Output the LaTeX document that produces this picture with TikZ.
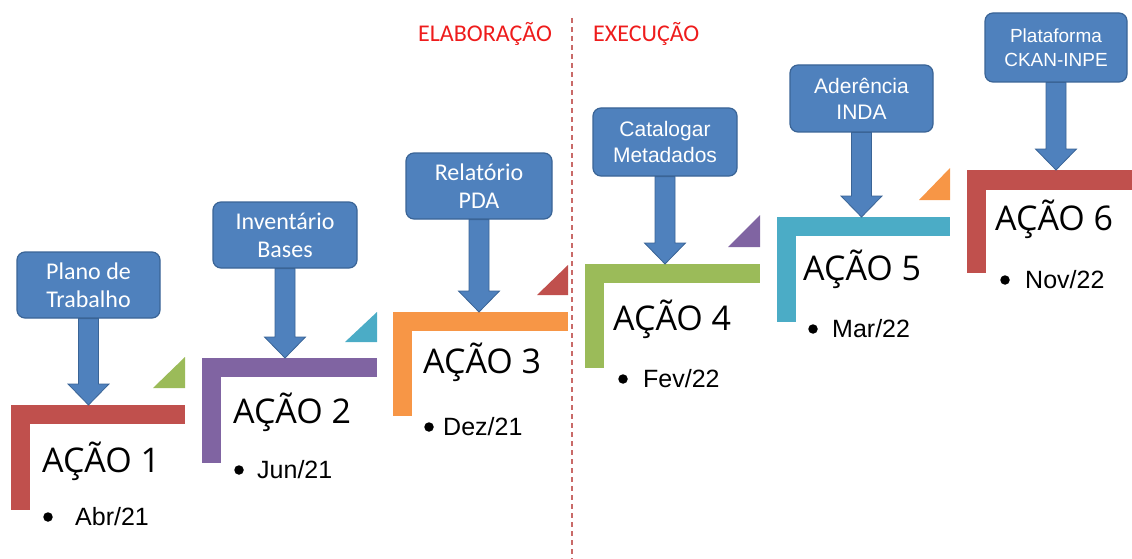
\documentclass[tikz,border=0pt]{standalone}
\usepackage{fontspec}
\setmainfont{Open Sans}
\newfontfamily\calfont{Carlito}
\newfontfamily\arialfont{Liberation Sans}
\usetikzlibrary{calc}
\definecolor{cred}{HTML}{C0504D}
\definecolor{cpurple}{HTML}{8064A2}
\definecolor{corange}{HTML}{F79646}
\definecolor{cgreen}{HTML}{9BBB59}
\definecolor{ccyan}{HTML}{4BACC6}
\definecolor{boxblue}{HTML}{4F81BD}
\definecolor{boxedge}{HTML}{3A6496}
\definecolor{labred}{HTML}{EE1C1C}
\newcommand\blockarrow[2]{%
  \path[arrowsty] let \p1=(#1.south), \p2=(#2) in
    (\x1-10pt,\y1) -- (\x1+10pt,\y1) -- (\x1+10pt,\y2+21pt) -- (\x1+20.5pt,\y2+21pt)
    -- (\x1,\y2) -- (\x1-20.5pt,\y2+21pt) -- (\x1-10pt,\y2+21pt) -- cycle;}
\begin{document}
\begin{tikzpicture}[x=1pt,y=-1pt,
  bar/.style={draw=none,inner sep=0,outer sep=0,anchor=north west},
  box/.style={rounded corners=8pt,fill=boxblue,draw=boxedge,line width=1.2pt,
    text=white,align=center,inner sep=0,minimum width=143pt,minimum height=66pt},
  calbox/.style={box,font=\calfont\fontsize{24}{28}\selectfont},
  arbox/.style={box,font=\arialfont\fontsize{21}{26}\selectfont},
  arrowsty/.style={fill=boxblue,draw=boxedge,line width=0.8pt},
  acao/.style={anchor=base west,inner sep=0,font=\fontsize{34}{40}\selectfont},
  datetext/.style={anchor=base west,inner sep=0,font=\arialfont\fontsize{25}{30}\selectfont},
  bul/.style={circle,fill=black,inner sep=0,minimum size=9.5pt},
  phase/.style={anchor=base west,inner sep=0,text=labred,font=\calfont\fontsize{24}{28}\selectfont}]
\useasboundingbox (0,0) rectangle (1132,559);

% divider
\draw[cred!85!white,line width=1.3pt,dash pattern=on 5pt off 4pt] (572,18) -- (572,559);
\node[phase] (elab) at (418,42) {ELABORAÇÃO};
\node[phase] (exec) at (593,42) {EXECUÇÃO};

% L shapes
\node[bar,fill=cred,minimum width=174pt,minimum height=18.5pt] (h1) at (11,405) {};
\node[bar,fill=cred,minimum width=18.5pt,minimum height=105pt] (v1) at (11,405) {};
\node[bar,fill=cpurple,minimum width=175pt,minimum height=18.5pt] (h2) at (202,358) {};
\node[bar,fill=cpurple,minimum width=18.5pt,minimum height=105pt] (v2) at (202,358) {};
\node[bar,fill=corange,minimum width=175pt,minimum height=18.5pt] (h3) at (393,312) {};
\node[bar,fill=corange,minimum width=18.5pt,minimum height=104pt] (v3) at (393,312) {};
\node[bar,fill=cgreen,minimum width=175pt,minimum height=18.5pt] (h4) at (585,264) {};
\node[bar,fill=cgreen,minimum width=18.5pt,minimum height=104pt] (v4) at (585,264) {};
\node[bar,fill=ccyan,minimum width=173pt,minimum height=18.5pt] (h5) at (777,217) {};
\node[bar,fill=ccyan,minimum width=18.5pt,minimum height=105pt] (v5) at (777,217) {};
\node[bar,fill=cred,minimum width=165pt,minimum height=19.5pt] (h6) at (967,170) {};
\node[bar,fill=cred,minimum width=18.5pt,minimum height=103pt] (v6) at (967,170) {};

% corner triangles
\fill[cgreen] (153,388) -- (185,388) -- (185,357) -- cycle;
\fill[ccyan] (345,342) -- (377,342) -- (377,312) -- cycle;
\fill[cred] (537,295) -- (568,295) -- (568,265) -- cycle;
\fill[cpurple] (728,247) -- (760,247) -- (760,215) -- cycle;
\fill[corange] (919,200) -- (950,200) -- (950,168) -- cycle;

% boxes
\node[calbox] (b1) at (88.5,285) {Plano de\\Trabalho};
\node[calbox,minimum width=144pt] (b2) at (285,235) {Inventário\\Bases};
\node[calbox,minimum width=146pt] (b3) at (479,186) {Relatório\\PDA};
\node[arbox,minimum width=144pt,minimum height=68pt] (b4) at (665,142) {Catalogar\\Metadados};
\node[arbox,minimum height=67pt] (b5) at (861.5,98.5) {Aderência\\INDA};
\node[box,font=\arialfont\fontsize{19}{24}\selectfont,minimum width=142pt,minimum height=69pt] (b6) at (1056,47.5) {Plataforma\\CKAN-INPE};

% arrow tips
\coordinate (t1) at (b1.south |- h1.north);
\coordinate (t2) at (b2.south |- h2.north);
\coordinate (t3) at (b3.south |- h3.north);
\coordinate (t4) at (b4.south |- h4.north);
\coordinate (t5) at (b5.south |- h5.north);
\coordinate (t6) at (b6.south |- h6.north);
\blockarrow{b1}{t1}
\blockarrow{b2}{t2}
\blockarrow{b3}{t3}
\blockarrow{b4}{t4}
\blockarrow{b5}{t5}
\blockarrow{b6}{t6}

% titles
\node[acao] (a1) at (42,472) {AÇÃO 1};
\node[acao] (a2) at (233,423) {AÇÃO 2};
\node[acao] (a3) at (423,373) {AÇÃO 3};
\node[acao] (a4) at (613,330) {AÇÃO 4};
\node[acao] (a5) at (803,280) {AÇÃO 5};
\node[acao] (a6) at (995,230) {AÇÃO 6};

% dates
\node[bul] (p1) at (48,517) {};
\node[datetext] (d1) at (75,525) {Abr/21};
\node[bul] (p2) at (239,470) {};
\node[datetext] (d2) at (257,478) {Jun/21};
\node[bul] (p3) at (429,427) {};
\node[datetext] (d3) at (443,435) {Dez/21};
\node[bul] (p4) at (623,379) {};
\node[datetext] (d4) at (643,387) {Fev/22};
\node[bul] (p5) at (813,329) {};
\node[datetext] (d5) at (832,337) {Mar/22};
\node[bul] (p6) at (1005,280) {};
\node[datetext] (d6) at (1025,288) {Nov/22};
\end{tikzpicture}
\end{document}
